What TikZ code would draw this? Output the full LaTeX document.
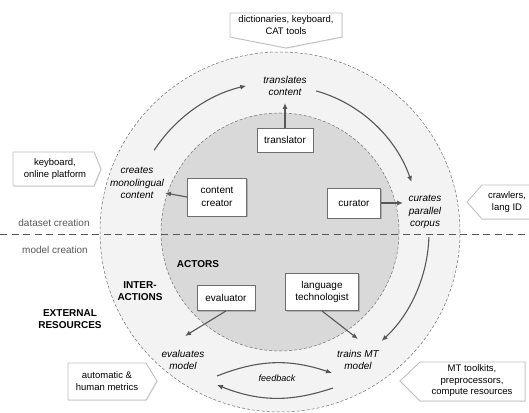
\documentclass[tikz,border=0pt]{standalone}
\usepackage{fontspec}
\setmainfont{Liberation Sans}
\usetikzlibrary{arrows.meta,shadows,positioning}

\definecolor{outerring}{HTML}{F3F3F3}
\definecolor{innerdisc}{HTML}{D9D9D9}
\definecolor{rimgray}{HTML}{6E6E6E}
\definecolor{flowgray}{HTML}{575757}
\definecolor{calloutgray}{HTML}{BDBDBD}

\begin{document}
\begin{tikzpicture}[x=1pt,y=1pt]
  \tikzset{ActorStyle/.style = {shape          = rectangle,
                                draw           = rimgray,
                                fill           = white,
                                line width     = 0.9pt,
                                align          = center,
                                inner sep      = 2pt,
                                font           = \fontsize{10}{12.5}\selectfont,
                                drop shadow    = {shadow xshift=1pt, shadow yshift=-1pt, opacity=0.45}},
           ActionStyle/.style = {align=center, inner sep=1pt, font=\fontsize{10}{12.5}\selectfont\itshape},
           LayerStyle/.style  = {align=center, inner sep=1pt, font=\fontsize{10}{11.5}\selectfont\bfseries},
           CalloutStyle/.style = {draw=calloutgray, fill=white, line width=0.8pt,
                                  drop shadow={shadow xshift=0.8pt, shadow yshift=-0.8pt, opacity=0.2}},
           CalloutText/.style = {align=center, inner sep=0pt, font=\fontsize{9.5}{11.5}\selectfont},
           FlowStyle/.style   = {draw=flowgray, line width=1.1pt, -{Latex[length=6pt,width=5pt]}},
           RimStyle/.style    = {draw=rimgray, line width=0.5pt, dash pattern=on 3pt off 2pt}}
  \useasboundingbox (0,0) rectangle (529,412);
  %%% CERCLES %%%
  \coordinate (o) at (280,180);
  \fill[outerring] (o) circle (180);
  \draw[RimStyle] (o) circle (180);
  \fill[innerdisc] (o) circle (119);
  \draw[RimStyle] (o) circle (119);
  %%% LIGNE DE SEPARATION %%%
  \draw[flowgray, line width=1pt, dash pattern=on 7pt off 4.5pt] (0,177) -- (529,177);
  \node[text=flowgray, font=\fontsize{10}{12}\selectfont] (dataset) at (54,189) {dataset creation};
  \node[text=flowgray, font=\fontsize{10}{12}\selectfont] (model) at (55,162) {model creation};
  %%% ACTEURS %%%
  \node[ActorStyle, minimum width=56, minimum height=24] (translator) at (285,272) {translator};
  \node[ActorStyle, minimum width=59, minimum height=38] (creator) at (217,215) {content\\creator};
  \node[ActorStyle, minimum width=53, minimum height=30] (curator) at (354,209) {curator};
  \node[ActorStyle, minimum width=58, minimum height=25] (evaluator) at (226,114) {evaluator};
  \node[ActorStyle, minimum width=73, minimum height=37] (technologist) at (322,120) {language\\technologist};
  %%% INTERACTIONS %%%
  \node[ActionStyle] (translates) at (285,326) {translates\\content};
  \node[ActionStyle] (creates) at (137,229) {creates\\monolingual\\content};
  \node[ActionStyle] (curates) at (425,200) {curates\\parallel\\corpus};
  \node[ActionStyle] (evaluates) at (183,52) {evaluates\\model};
  \node[ActionStyle] (trains) at (358,52) {trains MT\\model};
  \node[ActionStyle, font=\fontsize{9}{11}\selectfont\itshape] (feedback) at (277,34) {feedback};
  %%% COUCHES %%%
  \node[LayerStyle] (actors) at (198,148) {ACTORS};
  \node[LayerStyle] (inter) at (140,121) {INTER-\\ACTIONS};
  \node[LayerStyle] (external) at (70,93) {EXTERNAL\\RESOURCES};
  %%% FLECHES %%%
  \coordinate (creates tip) at (165,219);
  \coordinate (translates tip) at (285,309);
  \coordinate (curates tip) at (403,209);
  \coordinate (evaluates tip) at (185,76);
  \coordinate (trains tip) at (358,73);
  \draw[FlowStyle] (creator.west) -- (creates tip);
  \draw[FlowStyle] (translator.north) -- (translates tip);
  \draw[FlowStyle] (curator.east) -- (curates tip);
  \draw[FlowStyle] (evaluator.south) -- (evaluates tip);
  \draw[FlowStyle] (technologist.south) -- (trains tip);
  \draw[FlowStyle] ([shift={(147:150)}]o) arc[start angle=147, end angle=103, radius=150];
  \draw[FlowStyle] ([shift={(75:140 and 146)}]o) arc[start angle=75, end angle=20, x radius=140, y radius=146];
  \draw[FlowStyle] ([shift={(-2:149)}]o) arc[start angle=-2, end angle=-47, radius=149];
  \coordinate (fb1) at (217,36);
  \coordinate (fb2) at (332,39);
  \coordinate (fb3) at (333,24);
  \coordinate (fb4) at (217,27);
  \draw[FlowStyle] (fb1) to[bend left=20] (fb2);
  \draw[FlowStyle] (fb3) to[bend left=20] (fb4);
  %%% RESSOURCES EXTERNES %%%
  \draw[CalloutStyle] (230,399) -- (342,399) -- (342,375) -- (286,364) -- (230,375) -- cycle;
  \node[CalloutText] (cat) at (286,387) {dictionaries, keyboard,\\CAT tools};
  \draw[CalloutStyle] (13,260) -- (94,260) -- (101,243) -- (94,226) -- (13,226) -- cycle;
  \node[CalloutText] (keyboard) at (55,243) {keyboard,\\online platform};
  \draw[CalloutStyle] (540,227) -- (482,227) -- (467,210) -- (482,193) -- (540,193) -- cycle;
  \node[CalloutText] (crawlers) at (507,210) {crawlers,\\lang ID};
  \draw[CalloutStyle] (68,49) -- (146,49) -- (157,31) -- (146,12) -- (68,12) -- cycle;
  \node[CalloutText] (metrics) at (107,31) {automatic \&\\human metrics};
  \draw[CalloutStyle] (525,50) -- (420,50) -- (400,31) -- (420,11) -- (525,11) -- cycle;
  \node[CalloutText] (toolkits) at (472,31) {MT toolkits,\\preprocessors,\\compute resources};
\end{tikzpicture}
\end{document}
